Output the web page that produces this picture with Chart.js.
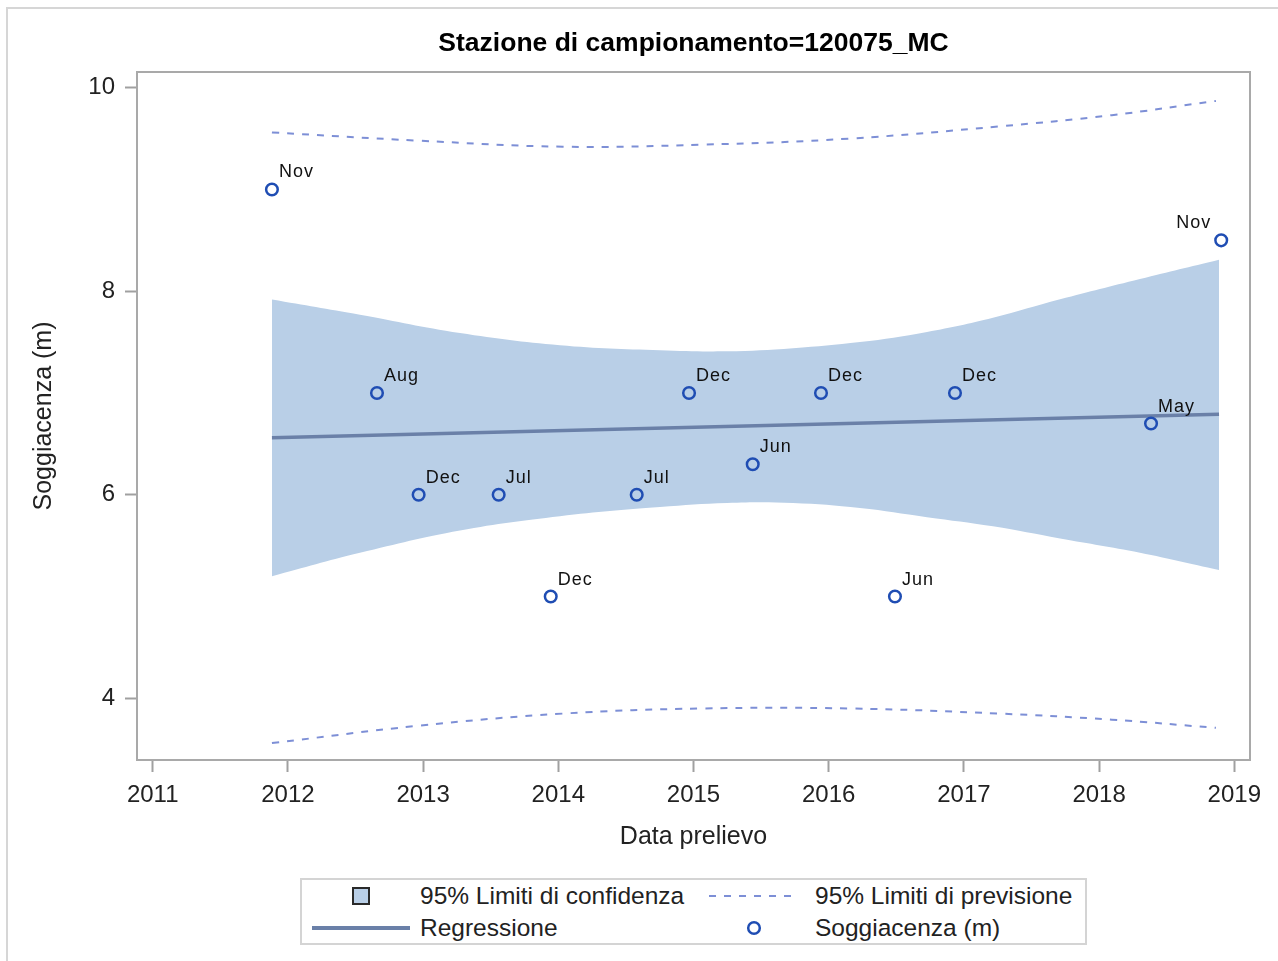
<!DOCTYPE html>
<html>
<head>
<meta charset="utf-8">
<script src="https://cdn.jsdelivr.net/npm/chart.js@4.4.1/dist/chart.umd.min.js"></script>
<style>
    html, body { margin: 0; padding: 0; background: #fff; }
    body { width: 1278px; height: 961px; overflow: hidden; position: relative; font-family: "Liberation Sans", Arial, sans-serif; }
    #frame { position: absolute; left: 6px; top: 7px; width: 1300px; height: 1000px; border: 2px solid #d6d6d6; box-sizing: border-box; }
    #wrap { position: absolute; left: 0; top: 0; width: 1278px; height: 961px; }
    #legend {
        position: absolute; left: 300px; top: 878px; width: 787px; height: 67px;
        border: 2px solid #d4d4d4; box-sizing: border-box; background: #fff;
        display: grid; grid-template-columns: 118px 280px 107px 1fr; grid-template-rows: 32px 31px;
        align-items: center; font-size: 24.5px; color: #222;
    }
    #legend .sym { display: flex; justify-content: center; align-items: center; }
    #legend .txt { white-space: nowrap; padding-left: 0; }
    #legend .txt.r { padding-left: 8px; }
</style>
</head>
<body>
<div id="frame"></div>
<div id="wrap"><canvas id="cChart" width="1278" height="961"></canvas></div>
<div id="legend">
    <div class="sym"><svg width="20" height="20"><rect x="2" y="2" width="16" height="16" fill="#b9cfe7" stroke="#2a2a2a" stroke-width="2"/></svg></div>
    <div class="txt">95% Limiti di confidenza</div>
    <div class="sym"><svg width="90" height="6"><line x1="0" y1="3" x2="90" y2="3" stroke="#7d8fd6" stroke-width="2" stroke-dasharray="7 8"/></svg></div>
    <div class="txt r">95% Limiti di previsione</div>
    <div class="sym"><svg width="98" height="6"><line x1="0" y1="3" x2="98" y2="3" stroke="#6a80a8" stroke-width="4"/></svg></div>
    <div class="txt">Regressione</div>
    <div class="sym"><svg width="16" height="16"><circle cx="8" cy="8" r="5.8" fill="none" stroke="#1f4db3" stroke-width="2.5"/></svg></div>
    <div class="txt r">Soggiacenza (m)</div>
</div>
<script>
// ===== Stazione 120075_MC — Soggiacenza, regressione lineare =====
const TITLE = 'Stazione di campionamento=120075_MC';

// osservazioni (anno decimale, metri)
const obsYears  = [2011.882, 2012.659, 2012.967, 2013.559, 2013.944, 2014.580, 2014.967, 2015.438, 2015.943, 2016.490, 2016.934, 2018.384, 2018.903];
const obsValues = [9.0, 7.0, 6.0, 6.0, 5.0, 6.0, 7.0, 6.3, 7.0, 5.0, 7.0, 6.7, 8.5];
const obsMonths = ['Nov', 'Aug', 'Dec', 'Jul', 'Dec', 'Jul', 'Dec', 'Jun', 'Dec', 'Jun', 'Dec', 'May', 'Nov'];

// retta di regressione
const regYears  = [2011.882, 2018.887];
const regValues = [6.56, 6.79];

// 95% limiti di confidenza
const confYears = [2011.882, 2012.533, 2013.273, 2014.012, 2014.752, 2015.248, 2015.736, 2016.231, 2016.727, 2017.215, 2017.711, 2018.302, 2018.887];
const confUpper = [7.92, 7.77, 7.59, 7.47, 7.42, 7.41, 7.44, 7.50, 7.60, 7.74, 7.92, 8.12, 8.31];
const confLower = [5.20, 5.43, 5.65, 5.79, 5.88, 5.92, 5.92, 5.87, 5.78, 5.69, 5.57, 5.43, 5.26];

// 95% limiti di previsione
const predYears = [2011.882, 2012.962, 2014.034, 2015.063, 2016.157, 2017.266, 2018.094, 2018.864];
const predUpper = [9.56, 9.48, 9.42, 9.44, 9.50, 9.62, 9.73, 9.87];
const predLower = [3.56, 3.73, 3.85, 3.90, 3.90, 3.85, 3.79, 3.71];

const xTicks = [2011, 2012, 2013, 2014, 2015, 2016, 2017, 2018, 2019];
const yTicks = [4, 6, 8, 10];

const FONT = '"Liberation Sans", Arial, sans-serif';
const pts = (xs, ys) => xs.map((x, i) => ({ x, y: ys[i] }));

const frameAndTitle = {
    id: 'frameAndTitle',
    beforeDatasetsDraw(chart) {
        const { ctx, chartArea: a } = chart;
        ctx.save();
        ctx.font = 'bold 26.5px ' + FONT;
        ctx.fillStyle = '#000';
        ctx.textAlign = 'center';
        ctx.textBaseline = 'middle';
        ctx.fillText(TITLE, (a.left + a.right) / 2, 44);
        ctx.restore();
    },
    afterDraw(chart) {
        const { ctx, chartArea: a } = chart;
        ctx.save();
        ctx.strokeStyle = '#a9a9a9';
        ctx.lineWidth = 2;
        ctx.strokeRect(a.left, a.top, a.right - a.left, a.bottom - a.top);
        ctx.restore();
    }
};

const pointLabels = {
    id: 'pointLabels',
    afterDatasetsDraw(chart) {
        const { ctx, chartArea: a } = chart;
        const meta = chart.getDatasetMeta(0);
        ctx.save();
        ctx.font = '18px ' + FONT;
        ctx.letterSpacing = '1px';
        ctx.fillStyle = '#111';
        ctx.textBaseline = 'alphabetic';
        meta.data.forEach((p, i) => {
            const txt = obsMonths[i];
            const w = ctx.measureText(txt).width;
            if (p.x + 7 + w > a.right - 4) {
                ctx.textAlign = 'right';
                ctx.fillText(txt, p.x - 10, p.y - 12);
            } else {
                ctx.textAlign = 'left';
                ctx.fillText(txt, p.x + 7, p.y - 12);
            }
        });
        ctx.restore();
    }
};

new Chart(document.getElementById('cChart').getContext('2d'), {
    type: 'line',
    data: {
        datasets: [
            {
                label: 'Soggiacenza (m)', data: pts(obsYears, obsValues), showLine: false,
                pointStyle: 'circle', pointRadius: 5.8, pointBorderWidth: 2.5,
                pointBorderColor: '#1f4db3', pointBackgroundColor: 'rgba(0,0,0,0)', order: 0
            },
            {
                label: 'Regressione', data: pts(regYears, regValues),
                borderColor: '#6a80a8', borderWidth: 3.5, pointRadius: 0, fill: false, order: 1
            },
            {
                label: '95% Limiti di previsione', data: pts(predYears, predUpper),
                borderColor: '#7d8fd6', borderWidth: 2, borderDash: [7, 8], pointRadius: 0,
                tension: 0.4, fill: false, order: 2
            },
            {
                label: '95% Limiti di previsione (inf)', data: pts(predYears, predLower),
                borderColor: '#7d8fd6', borderWidth: 2, borderDash: [7, 8], pointRadius: 0,
                tension: 0.4, fill: false, order: 3
            },
            {
                label: '95% Limiti di confidenza', data: pts(confYears, confUpper),
                borderWidth: 0, borderColor: 'rgba(0,0,0,0)', pointRadius: 0,
                tension: 0.4, fill: false, order: 5
            },
            {
                label: '95% Limiti di confidenza (inf)', data: pts(confYears, confLower),
                borderWidth: 0, borderColor: 'rgba(0,0,0,0)', pointRadius: 0,
                tension: 0.4, fill: '-1', backgroundColor: '#b9cfe7', order: 4
            }
        ]
    },
    options: {
        responsive: false, animation: false,
        layout: { padding: { left: 0, right: 28, top: 72, bottom: 101 } },
        scales: {
            x: {
                type: 'linear', min: 2010.884, max: 2019.116,
                afterFit: s => { s.height = 100; },
                afterBuildTicks: s => { s.ticks = xTicks.map(v => ({ value: v })); },
                border: { display: false },
                grid: { drawOnChartArea: false, drawTicks: true, tickLength: 12, tickColor: '#a0a0a0', tickWidth: 2 },
                ticks: { padding: 9, color: '#222', font: { family: FONT, size: 24 }, callback: v => String(v), maxRotation: 0, autoSkip: false },
                title: { display: true, text: 'Data prelievo', color: '#222', font: { family: FONT, size: 25 }, padding: { top: 0, bottom: 8 } }
            },
            y: {
                type: 'linear', min: 3.394, max: 10.154,
                afterFit: s => { s.width = 137; },
                afterBuildTicks: s => { s.ticks = yTicks.map(v => ({ value: v })); },
                border: { display: false },
                grid: { drawOnChartArea: false, drawTicks: true, tickLength: 12, tickColor: '#a0a0a0', tickWidth: 2 },
                ticks: { padding: 10, color: '#222', font: { family: FONT, size: 24 }, callback: v => String(v) },
                title: { display: true, text: 'Soggiacenza (m)', color: '#222', font: { family: FONT, size: 25 }, padding: { top: 29, bottom: 0 } }
            }
        },
        plugins: {
            legend: { display: false },
            title: { display: false },
            tooltip: { enabled: false }
        }
    },
    plugins: [frameAndTitle, pointLabels]
});
</script>
</body>
</html>
